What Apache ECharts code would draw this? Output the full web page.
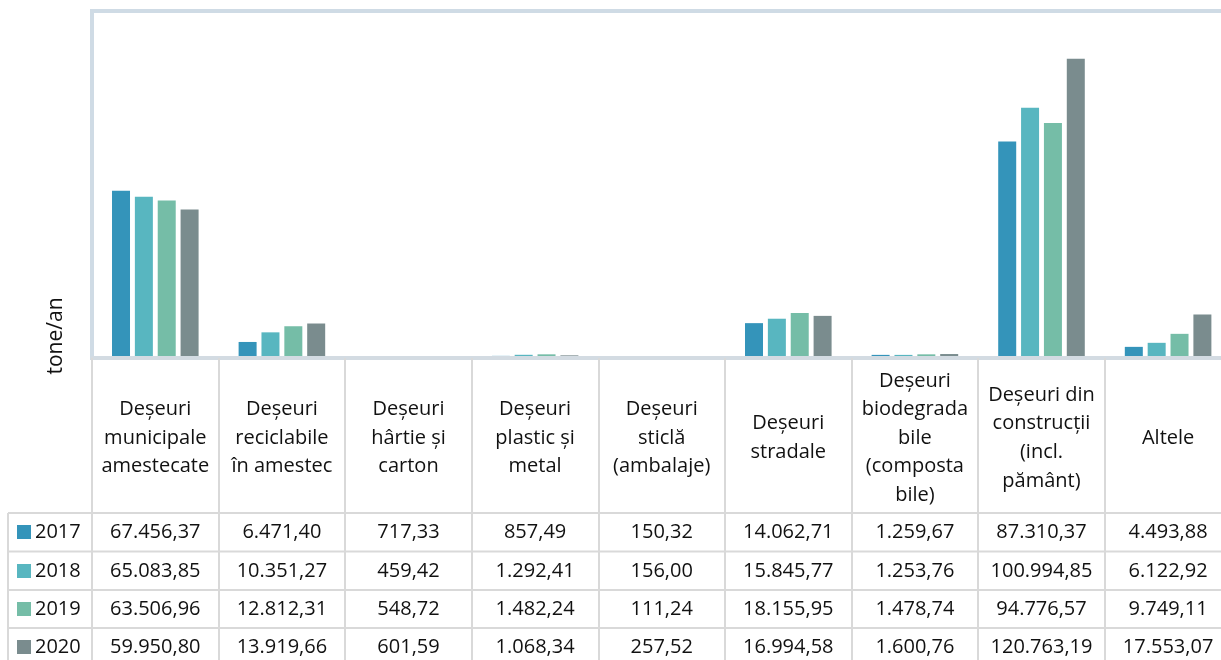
<!DOCTYPE html>
<html>
<head>
<meta charset="utf-8">
<script src="https://cdn.jsdelivr.net/npm/echarts@6/dist/echarts.min.js"></script>
<style>
html,body{margin:0;padding:0;background:#fff;}
#c{width:1221px;height:660px;}
</style>
</head>
<body>
<div id="c"></div>
<script>
const categories = [
  "Deșeuri\nmunicipale\namestecate",
  "Deșeuri\nreciclabile\nîn amestec",
  "Deșeuri\nhârtie și\ncarton",
  "Deșeuri\nplastic și\nmetal",
  "Deșeuri\nsticlă\n(ambalaje)",
  "Deșeuri\nstradale",
  "Deșeuri\nbiodegrada\nbile\n(composta\nbile)",
  "Deșeuri din\nconstrucții\n(incl.\npământ)",
  "Altele"
];
const years = ["2017", "2018", "2019", "2020"];
const v2017 = [67456.37, 6471.40, 717.33, 857.49, 150.32, 14062.71, 1259.67, 87310.37, 4493.88];
const v2018 = [65083.85, 10351.27, 459.42, 1292.41, 156.00, 15845.77, 1253.76, 100994.85, 6122.92];
const v2019 = [63506.96, 12812.31, 548.72, 1482.24, 111.24, 18155.95, 1478.74, 94776.57, 9749.11];
const v2020 = [59950.80, 13919.66, 601.59, 1068.34, 257.52, 16994.58, 1600.76, 120763.19, 17553.07];
const colors = ["#3494BA", "#58B6C0", "#75BDA7", "#7A8C8E"];
const yAxisName = "tone/an";

const seriesValues = [v2017, v2018, v2019, v2020];

function fmt(v) {
  const parts = v.toFixed(2).split(".");
  const intPart = parts[0].replace(/\B(?=(\d{3})+(?!\d))/g, ".");
  return intPart + "," + parts[1];
}

const FONT = "'Open Sans', Lato, sans-serif";
const TXT = "#111";
const FS = 20;
const gridLeft = 92, gridTop = 11, gridBottomY = 358;
const colW = 126.6;
const rowCenters = [532, 571, 609, 647];
const rowLines = [513, 551.5, 590, 628];
const lineColor = "#d9d9d9";

const chart = echarts.init(document.getElementById('c'), null, {renderer: 'canvas'});

const xAxes = [{
  type: 'category',
  gridIndex: 0,
  data: categories,
  position: 'bottom',
  axisLine: {show: true, lineStyle: {color: '#d3dbe2', width: 4}},
  axisTick: {show: true, interval: 0, length: 302, lineStyle: {color: lineColor, width: 2}},
  axisLabel: {
    interval: 0, margin: 80, verticalAlign: 'middle',
    fontFamily: FONT, fontSize: FS, lineHeight: 28.6, color: TXT, align: 'center'
  },
  z: 5
}];
seriesValues.forEach((vals, i) => {
  xAxes.push({
    type: 'category',
    gridIndex: 0,
    data: vals.map(fmt),
    position: 'bottom',
    offset: rowCenters[i] - gridBottomY,
    axisLine: {show: false},
    axisTick: {show: false},
    axisLabel: {
      interval: 0, margin: 0, verticalAlign: 'middle',
      fontFamily: FONT, fontSize: FS, color: TXT
    }
  });
});

const graphics = [];
rowLines.forEach(y => {
  graphics.push({
    type: 'line', z: 1,
    shape: {x1: 8, y1: y, x2: 1221, y2: y},
    style: {stroke: lineColor, lineWidth: 2}
  });
});
graphics.push({
  type: 'line', z: 1,
  shape: {x1: 8, y1: rowLines[0], x2: 8, y2: 660},
  style: {stroke: lineColor, lineWidth: 2}
});
graphics.push({
  type: 'text',
  x: 56, y: 336,
  rotation: Math.PI / 2,
  style: {
    text: yAxisName, fontFamily: FONT, fontSize: 21, fill: TXT,
    textAlign: 'center', textVerticalAlign: 'middle'
  }
});

const legends = years.map((y, i) => ({
  orient: 'vertical',
  left: 17, top: rowCenters[i] - 10,
  icon: 'rect', itemWidth: 14, itemHeight: 14,
  itemGap: 4,
  data: [y],
  padding: 0,
  textStyle: {fontFamily: FONT, fontSize: FS, color: TXT, padding: [0, 0, 0, -1], lineHeight: 20},
  selectedMode: false
}));

chart.setOption({
  animation: false,
  backgroundColor: '#ffffff',
  color: colors,
  grid: {
    left: gridLeft, top: gridTop, width: colW * 9, height: gridBottomY - gridTop,
    outerBoundsMode: 'none', containLabel: false,
    show: true, borderColor: '#cfdbe5', borderWidth: 4, backgroundColor: 'transparent'
  },
  legend: legends,
  xAxis: xAxes,
  yAxis: {
    type: 'value', min: 0, max: 140000,
    axisLine: {show: false}, axisTick: {show: false},
    axisLabel: {show: false}, splitLine: {show: false}
  },
  series: seriesValues.map((vals, i) => ({
    name: years[i],
    type: 'bar',
    xAxisIndex: 0,
    data: vals,
    barWidth: 18,
    barGap: '27%',
    itemStyle: {color: colors[i]},
    z: 3
  })),
  graphic: graphics
});
</script>
</body>
</html>
